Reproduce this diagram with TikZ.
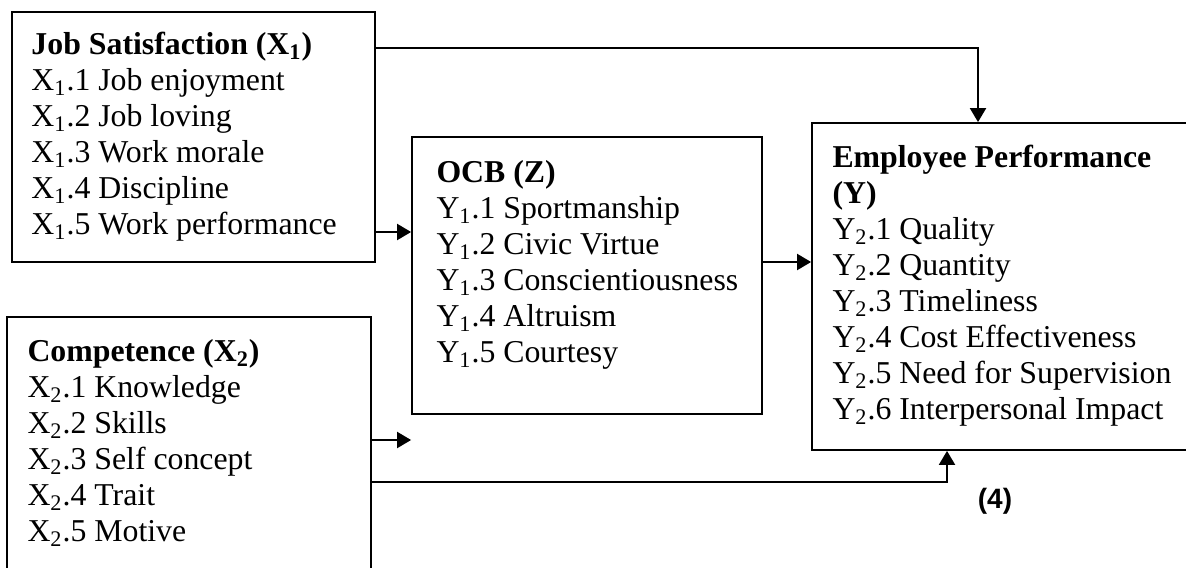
\documentclass[tikz,border=0pt]{standalone}
\usepackage{fontspec}
\setmainfont{Liberation Serif}
\newfontfamily\notefont{Liberation Sans}
\usetikzlibrary{arrows.meta,fit}

\begin{document}
\begin{tikzpicture}[x=0.5pt, y=-0.5pt,
  box/.style={draw, line width=0.9pt, inner sep=0pt},
  txt/.style={anchor=base west, align=left, inner sep=0pt, font=\fontsize{15.9pt}{18pt}\selectfont},
  arr/.style={line width=1pt, -{Triangle[length=7pt, width=8pt]}}]
\useasboundingbox (0,0) rectangle (1186,567);

% Kotak variabel
\node[box, fit={(12,12) (375,262)}] (js) {};
\node[box, fit={(7,317) (371,580)}] (cp) {};
\node[box, fit={(412,137) (762,414)}] (ocb) {};
\node[box, fit={(812,123) (1195,450)}] (ep) {};

% Indikator (base = baris terakhir)
\node[txt] (jstxt) at ([shift={(20,223)}]js.north west)
  {\textbf{Job Satisfaction (X\textsubscript{1})}\\
   X\textsubscript{1}.1 Job enjoyment\\
   X\textsubscript{1}.2 Job loving\\
   X\textsubscript{1}.3 Work morale\\
   X\textsubscript{1}.4 Discipline\\
   X\textsubscript{1}.5 Work performance};
\node[txt] (cptxt) at ([shift={(21,225)}]cp.north west)
  {\textbf{Competence (X\textsubscript{2})}\\
   X\textsubscript{2}.1 Knowledge\\
   X\textsubscript{2}.2 Skills\\
   X\textsubscript{2}.3 Self concept\\
   X\textsubscript{2}.4 Trait\\
   X\textsubscript{2}.5 Motive};
\node[txt] (ocbtxt) at ([shift={(25,226)}]ocb.north west)
  {\textbf{OCB (Z)}\\
   Y\textsubscript{1}.1 Sportmanship\\
   Y\textsubscript{1}.2 Civic Virtue\\
   Y\textsubscript{1}.3 Conscientiousness\\
   Y\textsubscript{1}.4 Altruism\\
   Y\textsubscript{1}.5 Courtesy};
\node[txt] (eptxt) at ([shift={(21,297)}]ep.north west)
  {\textbf{Employee Performance}\\
   \textbf{(Y)}\\
   Y\textsubscript{2}.1 Quality\\
   Y\textsubscript{2}.2 Quantity\\
   Y\textsubscript{2}.3 Timeliness\\
   Y\textsubscript{2}.4 Cost Effectiveness\\
   Y\textsubscript{2}.5 Need for Supervision\\
   Y\textsubscript{2}.6 Interpersonal Impact};

\node[font=\fontsize{14pt}{16pt}\notefont\bfseries] (note) at (995,501) {(4)};

% Panah
\draw[arr] (js.east |- 0,48) -| (ep.north -| 978,0);
\draw[arr] (js.east |- 0,232) -- (ocb.west |- 0,232);
\draw[arr] (ocb.east |- 0,262) -- (ep.west |- 0,262);
\draw[arr] (cp.east |- 0,440) -- (ocb.west |- 0,440);
\draw[arr] (cp.east |- 0,482) -| (ep.south -| 947,0);

\end{tikzpicture}
\end{document}
